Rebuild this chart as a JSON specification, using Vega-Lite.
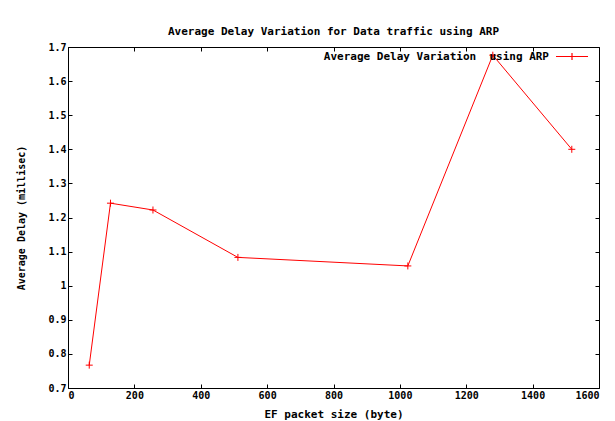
{
  "$schema": "https://vega.github.io/schema/vega-lite/v6.json",
  "width": 531,
  "height": 341,
  "autosize": {"type": "none"},
  "padding": {"left": 68, "top": 47, "right": 16, "bottom": 33},
  "background": "white",
  "title": {
    "text": "Average Delay Variation for Data traffic using ARP",
    "font": "DejaVu Sans Mono",
    "fontSize": 11,
    "fontWeight": "bold",
    "color": "black",
    "anchor": "middle",
    "offset": 3
  },
  "data": {
    "values": [
      {"size": 64, "delay": 0.767},
      {"size": 128, "delay": 1.242},
      {"size": 256, "delay": 1.222},
      {"size": 512, "delay": 1.083},
      {"size": 1024, "delay": 1.058},
      {"size": 1280, "delay": 1.676},
      {"size": 1518, "delay": 1.4}
    ]
  },
  "layer": [
    {
      "mark": {"type": "line", "strokeWidth": 1},
      "encoding": {
        "x": {
          "field": "size",
          "type": "quantitative",
          "scale": {"domain": [0, 1600], "nice": false, "zero": false},
          "axis": {
            "values": [0, 200, 400, 600, 800, 1000, 1200, 1400, 1600],
            "format": "d",
            "title": "EF packet size (byte)",
            "titleX": 265.5,
            "titleY": 26,
            "titleBaseline": "middle",
            "titleAlign": "center",
            "tickSize": -4
          }
        },
        "y": {
          "field": "delay",
          "type": "quantitative",
          "scale": {"domain": [0.7, 1.7], "nice": false, "zero": false},
          "axis": {
            "values": [0.7, 0.8, 0.9, 1, 1.1, 1.2, 1.3, 1.4, 1.5, 1.6, 1.7],
            "format": ".1~f",
            "title": "Average Delay (millisec)",
            "titleX": -47,
            "titleY": 170.5,
            "titleAngle": -90,
            "titleBaseline": "middle",
            "titleAlign": "center",
            "titleFontSize": 10,
            "tickSize": -4
          }
        },
        "color": {
          "datum": "Average Delay Variation\u00a0 using ARP",
          "type": "nominal",
          "scale": {"range": ["#ff0000"]},
          "legend": {
            "orient": "none",
            "legendX": 487,
            "legendY": -7.5,
            "title": null,
            "padding": 0,
            "symbolType": "M-1,0H1M0,-0.22V0.22",
            "symbolSize": 1024,
            "symbolStrokeWidth": 1.2,
            "symbolStrokeColor": "#ff0000",
            "symbolFillColor": "transparent",
            "labelAlign": "right",
            "labelOffset": -40,
            "labelLimit": 400,
            "labelFont": "DejaVu Sans Mono",
            "labelFontSize": 11,
            "labelFontWeight": "bold",
            "labelColor": "black",
            "symbolOpacity": 1
          }
        }
      }
    },
    {
      "mark": {
        "type": "point",
        "shape": "M-1,0H1M0,-1V1",
        "size": 49,
        "filled": false,
        "strokeWidth": 1,
        "color": "#ff0000",
        "opacity": 1
      },
      "encoding": {
        "x": {
          "field": "size",
          "type": "quantitative",
          "axis": {
            "orient": "top",
            "values": [0, 200, 400, 600, 800, 1000, 1200, 1400, 1600],
            "labels": false,
            "title": null,
            "tickSize": -4
          }
        },
        "y": {
          "field": "delay",
          "type": "quantitative",
          "axis": {
            "orient": "right",
            "values": [0.7, 0.8, 0.9, 1, 1.1, 1.2, 1.3, 1.4, 1.5, 1.6, 1.7],
            "labels": false,
            "title": null,
            "tickSize": -4
          }
        }
      }
    }
  ],
  "resolve": {"axis": {"x": "independent", "y": "independent"}},
  "config": {
    "view": {"stroke": "black", "strokeWidth": 1},
    "axis": {
      "domain": false,
      "grid": false,
      "tickColor": "black",
      "labelFont": "DejaVu Sans Mono",
      "labelFontSize": 10,
      "labelFontWeight": "bold",
      "labelColor": "black",
      "labelPadding": 6,
      "titleFont": "DejaVu Sans Mono",
      "titleFontSize": 11,
      "titleFontWeight": "bold",
      "titleColor": "black"
    }
  }
}
